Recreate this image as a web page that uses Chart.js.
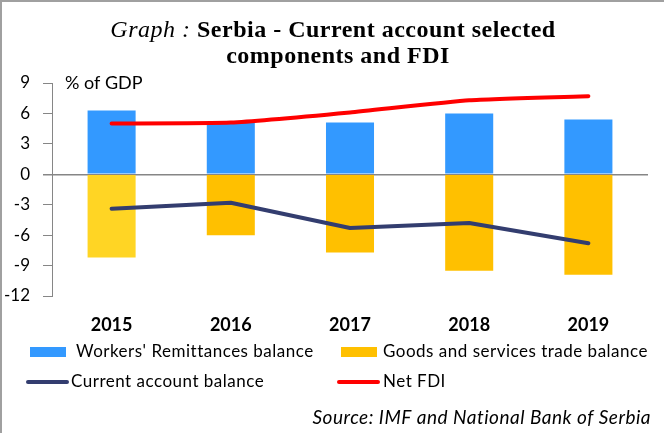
<!DOCTYPE html>
<html>
<head>
  <title>Serbia - Current account selected components and FDI</title>
  <script src="https://cdn.jsdelivr.net/npm/chart.js"></script>
  <style>
    body { margin: 0; background: #fff; }
    #wrap { position: relative; width: 664px; height: 433px; }
  </style>
</head>
<body>
  <div id="wrap"><canvas id="chart"></canvas></div>

  <script>
    // data (% of GDP)
    const years = ["2015", "2016", "2017", "2018", "2019"];
    const remittances = [6.3, 5.1, 5.1, 6.0, 5.4];
    const tradeBalance = [-8.2, -6.0, -7.7, -9.5, -9.9];
    const currentAccount = [-3.4, -2.8, -5.3, -4.8, -6.8];
    const netFdi = [5.0, 5.1, 6.1, 7.3, 7.7];
    const yTicks = [-12, -9, -6, -3, 0, 3, 6, 9];

    const blue = "#3399ff";
    const gold = "#ffc000";
    const navy = "#333d6f";
    const red = "#ff0000";
    const axisGrey = "#868686";
    const sans = "Lato";

    // title, "% of GDP", legend, source and frame are drawn by hand
    const decor = {
      id: "decor",
      afterDraw(chart) {
        const c = chart.ctx;
        c.save();

        c.strokeStyle = "#a0a0a0";
        c.lineWidth = 2;
        c.beginPath();
        c.moveTo(1, 433);
        c.lineTo(1, 1);
        c.lineTo(664, 1);
        c.stroke();

        c.fillStyle = "#000";
        c.textBaseline = "middle";
        c.textAlign = "left";
        c.letterSpacing = "0.5px";
        let p1 = "Graph : ";
        let p2 = "Serbia - Current account selected";
        c.font = 'italic 24px "Liberation Serif"';
        let w1 = c.measureText(p1).width;
        c.font = 'bold 24px "Liberation Serif"';
        let w2 = c.measureText(p2).width;
        let x = 333 - (w1 + w2) / 2;
        c.font = 'italic 24px "Liberation Serif"';
        c.fillText(p1, x, 31);
        c.font = 'bold 24px "Liberation Serif"';
        c.fillText(p2, x + w1, 31);
        c.textAlign = "center";
        c.fillText("components and FDI", 338, 57);

        c.letterSpacing = "0px";
        c.textAlign = "left";
        c.font = "18px " + sans;
        c.fillText("% of GDP", 65, 83);

        // legend, two columns
        const slots = [
          { x: 30, y: 352, tx: 76 },
          { x: 341, y: 352, tx: 383 },
          { x: 28, y: 382, tx: 71 },
          { x: 339, y: 382, tx: 383 }
        ];
        c.letterSpacing = "0.5px";
        chart.data.datasets.forEach(function(ds, i) {
          const s = slots[i];
          if (ds.type === "bar") {
            c.fillStyle = ds.legendColor;
            c.fillRect(s.x, s.y - 5, 36, 10);
          } else {
            c.strokeStyle = ds.borderColor;
            c.lineWidth = 4;
            c.lineCap = "round";
            c.beginPath();
            c.moveTo(s.x, s.y);
            c.lineTo(s.x + 39, s.y);
            c.stroke();
          }
          c.fillStyle = "#000";
          c.font = "17px " + sans;
          c.fillText(ds.label, s.tx, s.y);
        });

        c.textAlign = "right";
        c.font = "italic 19px " + sans;
        c.fillText("Source: IMF and National Bank of Serbia", 651, 418);
        c.restore();
      }
    };

    new Chart(document.getElementById("chart"), {
      data: {
        labels: years,
        datasets: [
          {
            type: "bar",
            label: "Workers' Remittances balance",
            data: remittances,
            backgroundColor: blue,
            legendColor: blue,
            barPercentage: 0.403,
            categoryPercentage: 1,
            order: 2
          },
          {
            type: "bar",
            label: "Goods and services trade balance",
            data: tradeBalance,
            backgroundColor: ["#ffd524", gold, gold, gold, gold],
            legendColor: gold,
            barPercentage: 0.403,
            categoryPercentage: 1,
            order: 2
          },
          {
            type: "line",
            label: "Current account balance",
            data: currentAccount,
            borderColor: navy,
            borderWidth: 4,
            borderCapStyle: "round",
            borderJoinStyle: "round",
            pointRadius: 0,
            tension: 0,
            order: 1
          },
          {
            type: "line",
            label: "Net FDI",
            data: netFdi,
            borderColor: red,
            borderWidth: 4,
            borderCapStyle: "round",
            borderJoinStyle: "round",
            pointRadius: 0,
            tension: 0.15,
            order: 1
          }
        ]
      },
      options: {
        responsive: true,
        maintainAspectRatio: false,
        animation: false,
        layout: { padding: { left: 0, right: 16, top: 83, bottom: 97 } },
        plugins: {
          legend: { display: false },
          title: { display: false },
          tooltip: { enabled: false }
        },
        scales: {
          x: {
            stacked: true,
            grid: { display: false, drawTicks: false },
            border: { display: false },
            ticks: { color: "#000", padding: 18, font: { family: sans, size: 18, weight: "bold" } },
            afterFit(scale) { scale.height = 40; }
          },
          y: {
            min: -12,
            max: 9,
            afterBuildTicks(scale) { scale.ticks = yTicks.map(v => ({ value: v })); },
            border: { display: true, color: axisGrey, width: 1 },
            grid: {
              drawOnChartArea: true,
              color: ctx => (ctx.tick && ctx.tick.value === 0 ? axisGrey : "rgba(0,0,0,0)"),
              lineWidth: ctx => (ctx.tick && ctx.tick.value === 0 ? 1.5 : 1),
              tickColor: axisGrey,
              tickLength: 9
            },
            ticks: { color: "#000", padding: 13, font: { family: sans, size: 17 } },
            afterFit(scale) { scale.width = 52; }
          }
        }
      },
      plugins: [decor]
    });
  </script>
</body>
</html>
